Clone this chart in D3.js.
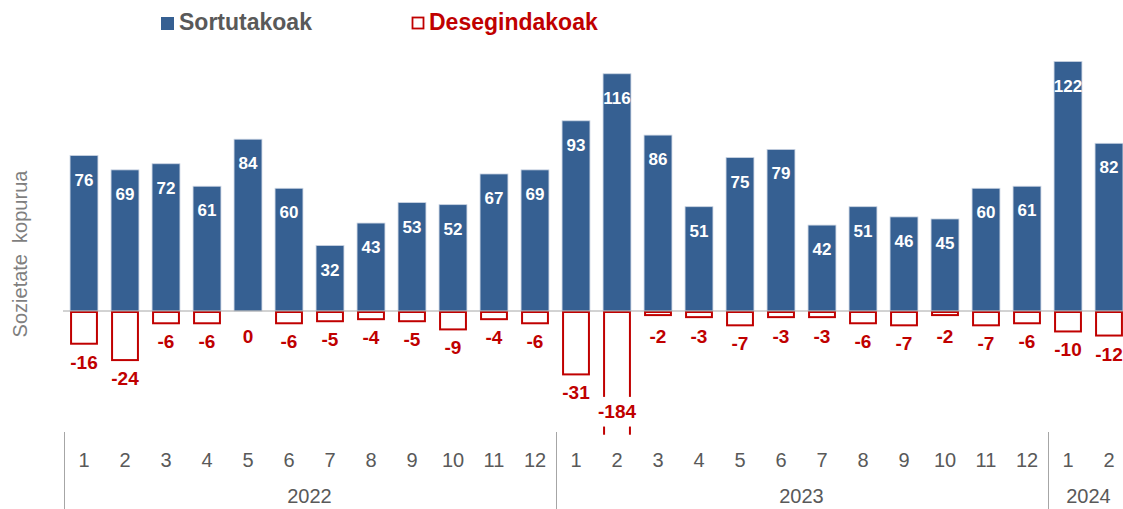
<!DOCTYPE html>
<html>
<head>
<meta charset="utf-8">
<title>Sozietateak</title>
<script src="https://cdn.jsdelivr.net/npm/d3@7"></script>
<style>
	body, html { margin: 0; padding: 0; background: #fff; }
	svg text { font-family: "Liberation Sans", Arial, sans-serif; }
</style>
</head>
<body>
<svg id="chart" width="1123" height="509"></svg>
<script>
	// data
	var months = ["1","2","3","4","5","6","7","8","9","10","11","12",
		"1","2","3","4","5","6","7","8","9","10","11","12","1","2"];
	var years = [
		{ label: "2022", from: 0, to: 12 },
		{ label: "2023", from: 12, to: 24 },
		{ label: "2024", from: 24, to: 26 }
	];
	var sortutakoak = [76,69,72,61,84,60,32,43,53,52,67,69,93,116,86,51,75,79,42,51,46,45,60,61,122,82];
	var desegindakoak = [-16,-24,-6,-6,0,-6,-5,-4,-5,-9,-4,-6,-31,-184,-2,-3,-7,-3,-3,-6,-7,-2,-7,-6,-10,-12];

	var BLUE = "#366092",
		RED = "#C00000",
		GREY = "#595959",
		CAP = -42; // negative bars are cut here

	var svg = d3.select("#chart");
	var idx = d3.range(months.length);

	var x = d3.scaleBand()
		.domain(idx)
		.range([63.5, 1129.5])
		.paddingInner(0.32)
		.paddingOuter(0.16);

	var y = d3.scaleLinear()
		.domain([0, 122])
		.range([311, 61.5]);

	// legend
	var leg = svg.append("g");
	leg.append("rect").attr("x", 161).attr("y", 17).attr("width", 13).attr("height", 13).attr("fill", BLUE);
	leg.append("text").attr("x", 179).attr("y", 30)
		.attr("font-size", 23).attr("font-weight", "bold").attr("fill", GREY)
		.text("Sortutakoak");
	leg.append("rect").attr("x", 412.5).attr("y", 17.5).attr("width", 11).attr("height", 11)
		.attr("fill", "#fff").attr("stroke", RED).attr("stroke-width", 1.8);
	leg.append("text").attr("x", 429).attr("y", 30)
		.attr("font-size", 23).attr("font-weight", "bold").attr("fill", RED)
		.text("Desegindakoak");

	// y axis title
	svg.append("text")
		.attr("transform", "translate(27,254) rotate(-90)")
		.attr("text-anchor", "middle")
		.attr("font-size", 20).attr("fill", "#7f7f7f")
		.attr("xml:space", "preserve")
		.text("Sozietate  kopurua");

	// positive bars
	svg.append("g").selectAll("rect")
		.data(sortutakoak)
	  .enter().append("rect")
		.attr("x", function(d, i) { return x(i); })
		.attr("y", function(d) { return y(d); })
		.attr("width", x.bandwidth())
		.attr("height", function(d) { return y(0) - y(d); })
		.attr("fill", BLUE)
		.attr("stroke", "#c9d3e2")
		.attr("stroke-width", 0.8);

	svg.append("g").selectAll("text")
		.data(sortutakoak)
	  .enter().append("text")
		.attr("x", function(d, i) { return x(i) + x.bandwidth() / 2; })
		.attr("y", function(d) { return y(d) + 30; })
		.attr("text-anchor", "middle")
		.attr("font-size", 17).attr("font-weight", "bold").attr("fill", "#fff")
		.text(function(d) { return d; });

	// negative bars (outlined)
	var neg = svg.append("g");
	desegindakoak.forEach(function(d, i) {
		if (d === 0) return;
		var x0 = x(i) + 1, w = x.bandwidth() - 2;
		if (d >= CAP) {
			neg.append("rect")
				.attr("x", x0).attr("y", y(0) + 1)
				.attr("width", w).attr("height", y(d) - y(0) - 1)
				.attr("fill", "#fff").attr("stroke", RED).attr("stroke-width", 2);
		} else {
			// cut bar: two sides down to the cap, then a short dash
			[x0, x0 + w].forEach(function(xx) {
				neg.append("line")
					.attr("x1", xx).attr("x2", xx)
					.attr("y1", y(0)).attr("y2", y(CAP))
					.attr("stroke", RED).attr("stroke-width", 2);
				neg.append("line")
					.attr("x1", xx).attr("x2", xx)
					.attr("y1", y(-56.5)).attr("y2", y(-60.5))
					.attr("stroke", RED).attr("stroke-width", 2);
			});
			neg.append("line")
				.attr("x1", x0).attr("x2", x0 + w)
				.attr("y1", y(0) + 1).attr("y2", y(0) + 1)
				.attr("stroke", RED).attr("stroke-width", 2);
		}
	});

	svg.append("g").selectAll("text")
		.data(desegindakoak)
	  .enter().append("text")
		.attr("x", function(d, i) { return x(i) + x.bandwidth() / 2; })
		.attr("y", function(d) {
			if (d < CAP) return y(CAP) + 21;
			return Math.max(y(d) + 25, y(0) + 32);
		})
		.attr("text-anchor", "middle")
		.attr("font-size", 19).attr("font-weight", "bold").attr("fill", RED)
		.text(function(d) { return d; });

	// baseline
	svg.append("line")
		.attr("x1", 63).attr("x2", 1129)
		.attr("y1", y(0)).attr("y2", y(0))
		.attr("stroke", "#a6a6a6").attr("stroke-width", 1);

	// category axis
	var axis = svg.append("g");
	axis.selectAll("text.m")
		.data(months)
	  .enter().append("text")
		.attr("class", "m")
		.attr("x", function(d, i) { return x(i) + x.bandwidth() / 2; })
		.attr("y", 467)
		.attr("text-anchor", "middle")
		.attr("font-size", 20).attr("fill", GREY)
		.text(function(d) { return d; });

	var step = x.step(), start = x.range()[0];
	axis.selectAll("text.y")
		.data(years)
	  .enter().append("text")
		.attr("class", "y")
		.attr("x", function(d) { return start + step * (d.from + d.to) / 2; })
		.attr("y", 503)
		.attr("text-anchor", "middle")
		.attr("font-size", 20).attr("fill", GREY)
		.text(function(d) { return d.label; });

	axis.selectAll("line")
		.data([0, 12, 24])
	  .enter().append("line")
		.attr("x1", function(d) { return Math.round(start + step * d) + 0.5; })
		.attr("x2", function(d) { return Math.round(start + step * d) + 0.5; })
		.attr("y1", 432).attr("y2", 509)
		.attr("stroke", "#a6a6a6").attr("stroke-width", 1);
</script>
</body>
</html>
